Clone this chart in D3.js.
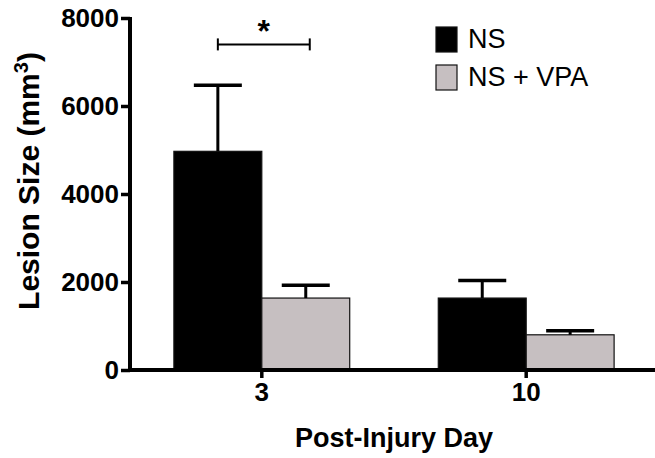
<!DOCTYPE html>
<html>
<head>
<meta charset="utf-8">
<script src="https://cdn.jsdelivr.net/npm/d3@7"></script>
<style>
  body { margin: 0; background: #fff; }
  text { font-family: "Liberation Sans", Arial, Helvetica, sans-serif; }
</style>
</head>
<body>
<div id="chart"></div>
<script>
// chart values
var days = ["3", "10"];
var groups = ["NS", "NS + VPA"];
var nsMean = [4970, 1635];
var nsSem = [1500, 400];
var vpaMean = [1635, 800];
var vpaSem = [290, 90];
var yTicks = [0, 2000, 4000, 6000, 8000];
var sigBracket = { day: "3", value: 7400, label: "*" };

var width = 655, height = 458;
var colors = { "NS": "#000000", "NS + VPA": "#c6bfc1" };

var rows = [];
for (var i = 0; i < days.length; i++) {
   rows.push({ day: days[i], group: groups[0], mean: nsMean[i], sem: nsSem[i] });
   rows.push({ day: days[i], group: groups[1], mean: vpaMean[i], sem: vpaSem[i] });
}

var svg = d3.select("#chart").append("svg")
   .attr("width", width).attr("height", height);

// scales
var x0 = d3.scaleBand().domain(days).range([130, 658])
   .paddingInner(0.335).paddingOuter(0.166);
var x1 = d3.scaleBand().domain(groups).range([0, x0.bandwidth()]);
var y = d3.scaleLinear().domain([0, 8000]).range([370, 18]);

// bars
var gBars = svg.append("g");
gBars.selectAll("rect").data(rows).enter().append("rect")
   .attr("x", function(d){ return x0(d.day) + x1(d.group); })
   .attr("y", function(d){ return y(d.mean); })
   .attr("width", x1.bandwidth())
   .attr("height", function(d){ return y(0) - y(d.mean); })
   .attr("fill", function(d){ return colors[d.group]; })
   .attr("stroke", "#111").attr("stroke-width", 1.2);

// error bars (upper only)
var gErr = svg.append("g").attr("stroke", "#000");
rows.forEach(function(d){
   var cx = x0(d.day) + x1(d.group) + x1.bandwidth() / 2;
   gErr.append("line")
      .attr("x1", cx).attr("x2", cx)
      .attr("y1", y(d.mean)).attr("y2", y(d.mean + d.sem))
      .attr("stroke-width", 3);
   gErr.append("line")
      .attr("x1", cx - 24).attr("x2", cx + 24)
      .attr("y1", y(d.mean + d.sem)).attr("y2", y(d.mean + d.sem))
      .attr("stroke-width", 3.5);
});

// y axis
var yAxis = d3.axisLeft(y).tickValues(yTicks).tickFormat(d3.format("d"))
   .tickSize(9).tickPadding(2);
var gy = svg.append("g").attr("transform", "translate(130,0)").call(yAxis);
gy.select(".domain").attr("stroke-width", 4).attr("d", "M0," + (y(8000) - 1) + "V" + (y(0) + 1.5));
gy.selectAll(".tick line").attr("stroke-width", 3.5);
gy.selectAll(".tick text")
   .style("font-size", "26px").style("font-weight", "bold").attr("fill", "#000");

// x axis
var xAxis = d3.axisBottom(x0).tickSize(8).tickPadding(5).tickSizeOuter(0);
var gx = svg.append("g").attr("transform", "translate(0," + y(0) + ")").call(xAxis);
gx.select(".domain").attr("stroke-width", 4).attr("d", "M128,0H" + width);
gx.selectAll(".tick line").attr("stroke-width", 3.5);
gx.selectAll(".tick text")
   .style("font-size", "26px").style("font-weight", "bold").attr("fill", "#000");

// axis titles
svg.append("text")
   .attr("transform", "translate(39,181) rotate(-90)")
   .attr("text-anchor", "middle")
   .style("font-size", "30px").style("font-weight", "bold")
   .text("Lesion Size (mm")
   .append("tspan").attr("dy", -11).style("font-size", "20px").text("3")
   .select(function(){ return this.parentNode; })
   .append("tspan").attr("dy", 11).text(")");

svg.append("text")
   .attr("x", 394).attr("y", 447)
   .attr("text-anchor", "middle")
   .style("font-size", "27px").style("font-weight", "bold")
   .text("Post-Injury Day");

// significance bracket
var bl = x0(sigBracket.day) + x1(groups[0]) + x1.bandwidth() / 2;
var br = x0(sigBracket.day) + x1(groups[1]) + x1.bandwidth() / 2;
var by = y(sigBracket.value);
var gSig = svg.append("g").attr("stroke", "#000").attr("stroke-width", 2);
gSig.append("line").attr("x1", bl).attr("x2", br + 4).attr("y1", by).attr("y2", by);
gSig.append("line").attr("x1", bl).attr("x2", bl).attr("y1", by - 6).attr("y2", by + 6);
gSig.append("line").attr("x1", br + 4).attr("x2", br + 4).attr("y1", by - 6).attr("y2", by + 6);
svg.append("text")
   .attr("x", (bl + br + 4) / 2).attr("y", by - 2)
   .attr("text-anchor", "middle")
   .style("font-size", "32px").style("font-weight", "bold")
   .text(sigBracket.label);

// legend
var legend = svg.append("g").attr("transform", "translate(436,27)");
groups.forEach(function(g, i){
   var row = legend.append("g").attr("transform", "translate(0," + (i * 38) + ")");
   row.append("rect").attr("width", 21).attr("height", 25)
      .attr("fill", colors[g]).attr("stroke", "#111").attr("stroke-width", 1.2);
   row.append("text").attr("x", 32).attr("y", 21)
      .style("font-size", "27px").attr("fill", "#000")
      .text(g);
});
</script>
</body>
</html>
